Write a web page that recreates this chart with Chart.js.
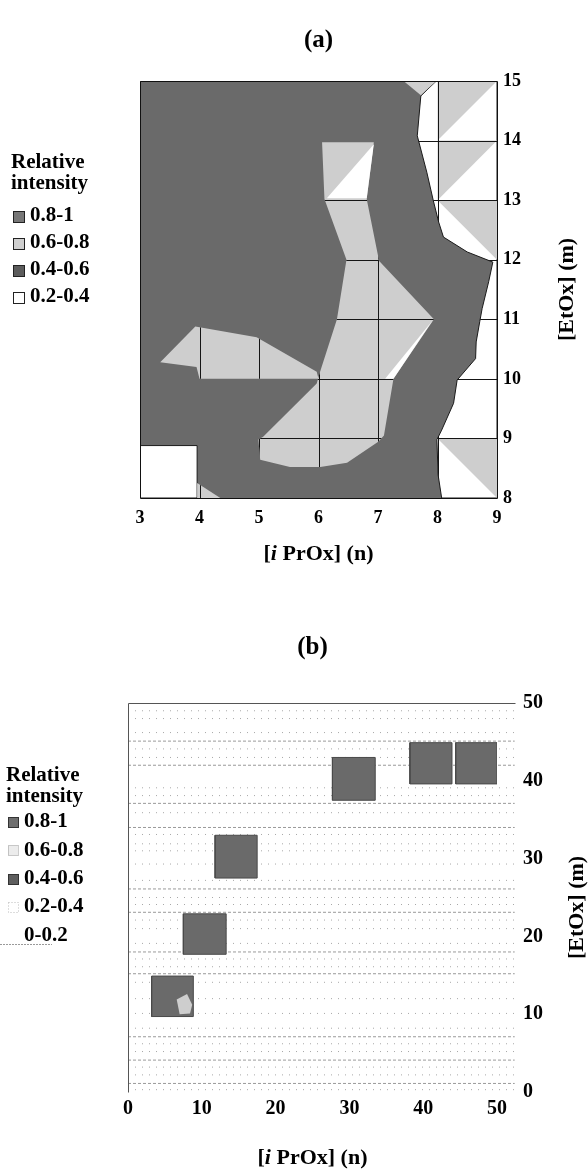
<!DOCTYPE html>
<html>
<head>
<meta charset="utf-8">
<title>Relative intensity maps</title>
<script src="https://cdn.jsdelivr.net/npm/chart.js@4.4.1/dist/chart.umd.min.js"></script>
<style>
  html, body { margin: 0; padding: 0; background: #fff; }
  canvas { display: block; }
</style>
</head>
<body>
<canvas id="chart-a" width="588" height="590"></canvas>
<canvas id="chart-b" width="588" height="584"></canvas>
<script>
// ---------- panel (a): n = 3..9, m = 8..15 ----------
var nRangeA = [3, 9];
var mRangeA = [8, 15];
var bandsA = ['0.8-1', '0.6-0.8', '0.4-0.6', '0.2-0.4'];

// contour regions, vertices as [n, m]
var fieldA = [[3, 8], [9, 8], [9, 15], [3, 15]];
var ridgeA = [[6.06, 13.97], [6.93, 13.97], [6.81, 13.02], [7.01, 12.02], [7.0, 12.0], [7.94, 11.0],
  [7.26, 10.0], [7.1, 9.05], [7.01, 8.95], [6.48, 8.59], [6.03, 8.52], [5.52, 8.52], [5.02, 8.64],
  [4.99, 8.98], [5.07, 9.03], [5.97, 9.92], [6.02, 10.1], [6.31, 11.0], [6.47, 12.0], [6.1, 13.02]];
var lobeA = [[3.34, 10.28], [3.93, 10.88], [4.96, 10.7], [5.97, 10.12], [6.0, 10.0], [4.0, 10.0], [3.95, 10.2]];
var notchA = [[6.93, 13.94], [6.81, 13.03], [6.14, 13.03]];
var sliverA = [[7.12, 10.0], [7.91, 10.97], [7.26, 10.0]];
var wedgeA = [[7.43, 15], [7.98, 15], [7.72, 14.76]];
var chipA = [[3.96, 8.25], [4.35, 8], [3.96, 8]];
var shoreA = [[7.98, 15], [7.72, 14.75], [7.66, 14.08], [7.82, 13.47], [7.93, 12.99], [8.02, 12.63],
  [8.1, 12.38], [8.5, 12.13], [8.93, 11.96], [8.86, 11.63], [8.75, 11.18], [8.71, 10.96], [8.65, 10.62],
  [8.64, 10.34], [8.33, 9.98], [8.27, 9.59], [8.07, 9.14], [7.99, 8.98], [8.01, 8.39], [8.07, 8.0],
  [9, 8], [9, 15]];
var cornerA = [[3, 8], [3.96, 8], [3.96, 8.88], [3, 8.88]];
var shadeA1 = [[8, 15], [9, 15], [8, 14]];
var shadeA2 = [[8, 14], [9, 14], [8, 13]];
var shadeA3 = [[8, 13], [9, 13], [9, 12]];
var shadeA4 = [[8, 9], [9, 9], [9, 8]];

// ---------- panel (b): n = 0..50, m = 0..50 ----------
var nRangeB = [0, 50];
var mRangeB = [0, 50];
var bandsB = ['0.8-1', '0.6-0.8', '0.4-0.6', '0.2-0.4', '0-0.2'];

// dark cells as [nFrom, nTo, mFrom, mTo]
var cellsB = [[3.2, 8.85, 9.7, 14.9], [7.5, 13.3, 17.7, 22.9], [11.8, 17.5, 27.5, 33.0],
  [27.7, 33.5, 37.5, 43.0], [38.2, 43.9, 39.6, 44.9], [44.4, 50.0, 39.6, 44.9]];
var spotB = [[6.6, 11.9], [8.0, 12.6], [8.7, 11.2], [8.4, 10.1], [7.0, 10.0]];
// m levels of the faint traces across the low-intensity floor (they run on past n = 50)
var traceEndB = 52.4;
var tracesB = [45.1, 42.0, 37.1, 34.0, 26.1, 23.1, 18.0, 15.2, 7.1, 4.1, 1.1];
var specksB = [49.0, 48.0, 46.2, 44.1, 43.0, 39.1, 38.1, 35.9, 33.1, 31.9, 31.0, 29.3, 27.2, 25.0,
  24.1, 22.1, 21.0, 19.1, 17.1, 16.1, 14.1, 12.0, 10.1, 8.2, 6.2, 5.2, 3.2, 2.2, 0.3];

var bandColors = {
  '0.8-1': '#6a6a6a',
  '0.6-0.8': '#cecece',
  '0.4-0.6': '#626262',
  '0.2-0.4': '#ffffff',
  '0-0.2': '#ffffff'
};

Chart.defaults.font.family = '"Liberation Serif", "Times New Roman", serif';
Chart.defaults.font.weight = 'bold';
Chart.defaults.color = '#000';

function toPoints(vertices) {
  var pts = vertices.map(function (v) { return {x: v[0], y: v[1]}; });
  pts.push({x: vertices[0][0], y: vertices[0][1]});
  return pts;
}

function region(vertices, band, order, edge) {
  return {
    label: band,
    data: toPoints(vertices),
    fill: 'shape',
    backgroundColor: bandColors[band],
    borderColor: '#1a1a1a',
    borderWidth: edge ? 1 : 0,
    order: order
  };
}

function rect(c) {
  return [[c[0], c[2]], [c[1], c[2]], [c[1], c[3]], [c[0], c[3]]];
}

function levelLines(levels, from, to) {
  var pts = [];
  levels.forEach(function (m) {
    pts.push({x: from, y: m}, {x: to, y: m}, {x: to, y: null});
  });
  return pts;
}

// grid lines only show through the lighter bands
var clippedGrid = {
  id: 'clippedGrid',
  afterDatasetsDraw: function (chart, args, opts) {
    var ctx = chart.ctx, xs = chart.scales.x, ys = chart.scales.y, area = chart.chartArea;
    chart.data.datasets.forEach(function (ds, i) {
      if (opts.bands.indexOf(ds.label) < 0) return;
      var pts = chart.getDatasetMeta(i).data;
      ctx.save();
      ctx.beginPath();
      pts.forEach(function (p, k) { if (k) ctx.lineTo(p.x, p.y); else ctx.moveTo(p.x, p.y); });
      ctx.closePath();
      ctx.clip();
      ctx.beginPath();
      xs.ticks.forEach(function (t) {
        var px = Math.round(xs.getPixelForValue(t.value)) + 0.5;
        ctx.moveTo(px, area.top);
        ctx.lineTo(px, area.bottom);
      });
      ys.ticks.forEach(function (t) {
        var py = Math.round(ys.getPixelForValue(t.value)) + 0.5;
        ctx.moveTo(area.left, py);
        ctx.lineTo(area.right, py);
      });
      ctx.strokeStyle = opts.color;
      ctx.lineWidth = 1;
      ctx.stroke();
      ctx.restore();
    });
  }
};

var plotFrame = {
  id: 'plotFrame',
  afterDatasetsDraw: function (chart, args, opts) {
    var a = chart.chartArea, ctx = chart.ctx;
    var l = Math.round(a.left) + 0.5, r = Math.round(a.right) + 0.5;
    var t = Math.round(a.top) + 0.5, b = Math.round(a.bottom) + 0.5;
    ctx.save();
    ctx.strokeStyle = opts.color;
    ctx.lineWidth = 1;
    ctx.beginPath();
    opts.sides.forEach(function (s) {
      if (s === 'top') { ctx.moveTo(l, t); ctx.lineTo(r + opts.overhang, t); }
      if (s === 'left') { ctx.moveTo(l, t); ctx.lineTo(l, b); }
      if (s === 'right') { ctx.moveTo(r, t); ctx.lineTo(r, b); }
      if (s === 'bottom') { ctx.moveTo(l, b); ctx.lineTo(r, b); }
    });
    ctx.stroke();
    ctx.restore();
  }
};

var bandKey = {
  id: 'bandKey',
  afterDraw: function (chart, args, opts) {
    var ctx = chart.ctx;
    ctx.save();
    ctx.font = 'bold ' + opts.size + 'px "Liberation Serif", serif';
    ctx.textBaseline = 'middle';
    ctx.textAlign = 'left';
    ctx.fillStyle = '#000';
    opts.title.forEach(function (line, i) {
      ctx.fillText(line, opts.left, opts.top + i * opts.titleGap);
    });
    opts.labels.forEach(function (label, i) {
      var y = opts.firstRow + i * opts.rowGap;
      var sw = opts.swatches[label];
      var bx = opts.left + 2, by = Math.round(y - opts.box / 2) + 0.5;
      if (sw.fill) {
        ctx.fillStyle = sw.fill;
        ctx.fillRect(bx, by, opts.box, opts.box);
      }
      if (sw.stroke) {
        ctx.setLineDash(sw.dash || []);
        ctx.strokeStyle = sw.stroke;
        ctx.lineWidth = 1;
        ctx.strokeRect(bx + 0.5, by, opts.box, opts.box);
        ctx.setLineDash([]);
      }
      if (sw.rule) {
        var ry = Math.round(y + opts.size / 2 - 2) + 0.5;
        ctx.strokeStyle = sw.rule;
        ctx.setLineDash([2, 1]);
        ctx.beginPath();
        ctx.moveTo(0, ry);
        ctx.lineTo(opts.left + opts.box + 36, ry);
        ctx.stroke();
        ctx.setLineDash([]);
      }
      ctx.fillStyle = '#000';
      ctx.fillText(label, bx + opts.box + opts.textGap, y);
    });
    ctx.restore();
  }
};

// axis titles: "[iPrOx] (n)" with an italic i, and "[EtOx] (m)" reading upwards on the right
var axisTitles = {
  id: 'axisTitles',
  afterDraw: function (chart, args, opts) {
    var ctx = chart.ctx, a = chart.chartArea;
    var fam = '"Liberation Serif", serif';
    var parts = [['[', 'bold '], ['i', 'italic bold '], [' PrOx] (n)', 'bold ']];
    ctx.save();
    ctx.fillStyle = '#000';
    ctx.textBaseline = 'middle';
    ctx.textAlign = 'left';
    var total = 0;
    parts.forEach(function (p) {
      ctx.font = p[1] + opts.size + 'px ' + fam;
      total += ctx.measureText(p[0]).width;
    });
    var x = (a.left + a.right) / 2 - total / 2, y = a.bottom + opts.xOffset;
    parts.forEach(function (p) {
      ctx.font = p[1] + opts.size + 'px ' + fam;
      ctx.fillText(p[0], x, y);
      x += ctx.measureText(p[0]).width;
    });
    ctx.translate(a.right + opts.yOffset, (a.top + a.bottom) / 2 + opts.yShift);
    ctx.rotate(-Math.PI / 2);
    ctx.textAlign = 'center';
    ctx.font = 'bold ' + opts.size + 'px ' + fam;
    ctx.fillText('[EtOx] (m)', 0, 0);
    ctx.restore();
  }
};

function scaleOptions(range, step, size, pad, position, fit) {
  return {
    type: 'linear',
    position: position,
    min: range[0],
    max: range[1],
    ticks: { stepSize: step, padding: pad, font: { size: size } },
    grid: { display: false, drawTicks: false },
    border: { display: false },
    afterFit: fit
  };
}

new Chart(document.getElementById('chart-a'), {
  type: 'line',
  data: {
    datasets: [
      region(fieldA, '0.8-1', 6),
      region(shoreA, '0.2-0.4', 5, true),
      region(cornerA, '0.2-0.4', 5, true),
      region(ridgeA, '0.6-0.8', 4),
      region(lobeA, '0.6-0.8', 4),
      region(wedgeA, '0.6-0.8', 4),
      region(chipA, '0.6-0.8', 4),
      region(shadeA1, '0.6-0.8', 3),
      region(shadeA2, '0.6-0.8', 3),
      region(shadeA3, '0.6-0.8', 3),
      region(shadeA4, '0.6-0.8', 3),
      region(notchA, '0.2-0.4', 2),
      region(sliverA, '0.2-0.4', 2)
    ]
  },
  options: {
    responsive: false,
    animation: false,
    events: [],
    layout: { padding: { left: 140, right: 51, bottom: 52 } },
    elements: { point: { radius: 0 }, line: { tension: 0 } },
    scales: {
      x: scaleOptions(nRangeA, 1, 18, 10, 'bottom', function (s) { s.height = 40; }),
      y: scaleOptions(mRangeA, 1, 18, 6, 'right', function (s) { s.width = 40; })
    },
    plugins: {
      legend: { display: false },
      tooltip: { enabled: false },
      title: { display: true, fullSize: false, text: '(a)', font: { size: 25 }, padding: { top: 26, bottom: 25 } },
      clippedGrid: { bands: ['0.6-0.8', '0.2-0.4'], color: '#151515' },
      plotFrame: { sides: ['top', 'left', 'right', 'bottom'], color: '#111', overhang: 0 },
      bandKey: {
        title: ['Relative', 'intensity'], labels: bandsA, size: 21,
        left: 11, top: 163, titleGap: 21, firstRow: 216, rowGap: 27, box: 11, textGap: 6,
        swatches: {
          '0.8-1': { fill: '#777', stroke: '#222' },
          '0.6-0.8': { fill: '#cfcfcf', stroke: '#222' },
          '0.4-0.6': { fill: '#5c5c5c', stroke: '#222' },
          '0.2-0.4': { fill: '#fff', stroke: '#222' }
        }
      },
      axisTitles: { size: 22, xOffset: 56, yOffset: 70, yShift: 0 }
    }
  },
  plugins: [clippedGrid, plotFrame, bandKey, axisTitles]
});

var cellSets = cellsB.map(function (c) {
  var ds = region(rect(c), '0.8-1', 3);
  ds.borderColor = '#4a4a4a';
  ds.borderWidth = 1;
  return ds;
});

// the traces run a little past the last tick, so let them out of the plot clip on the right
var traceClip = { left: 0, top: 0, right: 20, bottom: 0 };

new Chart(document.getElementById('chart-b'), {
  type: 'line',
  data: {
    datasets: [
      {
        label: '0.2-0.4',
        data: levelLines(specksB, nRangeB[0], traceEndB),
        borderColor: '#a8a8a8',
        borderWidth: 1,
        borderDash: [1, 6],
        fill: false,
        clip: traceClip,
        order: 5
      },
      {
        label: '0.2-0.4',
        data: levelLines(tracesB, nRangeB[0], traceEndB),
        borderColor: '#9a9a9a',
        borderWidth: 1,
        borderDash: [3, 2],
        fill: false,
        clip: traceClip,
        order: 4
      }
    ].concat(cellSets, [region(spotB, '0.6-0.8', 2)])
  },
  options: {
    responsive: false,
    animation: false,
    events: [],
    layout: { padding: { left: 128, right: 33, bottom: 42 } },
    elements: { point: { radius: 0 }, line: { tension: 0 } },
    scales: {
      x: scaleOptions(nRangeB, 10, 20, 5, 'bottom', function (s) { s.height = 40; }),
      y: scaleOptions(mRangeB, 10, 20, 26, 'right', function (s) { s.width = 58; })
    },
    plugins: {
      legend: { display: false },
      tooltip: { enabled: false },
      title: { display: true, fullSize: false, text: '(b)', font: { size: 25 }, padding: { top: 43, bottom: 40 } },
      plotFrame: { sides: ['top', 'left'], color: '#555', overhang: 18 },
      bandKey: {
        title: ['Relative', 'intensity'], labels: bandsB, size: 21,
        left: 6, top: 186, titleGap: 21, firstRow: 232, rowGap: 28.3, box: 10, textGap: 6,
        swatches: {
          '0.8-1': { fill: '#6e6e6e', stroke: '#333' },
          '0.6-0.8': { fill: '#ececec', stroke: '#999', dash: [1, 1] },
          '0.4-0.6': { fill: '#5e5e5e', stroke: '#333' },
          '0.2-0.4': { fill: '#fff', stroke: '#bbb', dash: [1, 2] },
          '0-0.2': { rule: '#9a9a9a' }
        }
      },
      axisTitles: { size: 22, xOffset: 66, yOffset: 80, yShift: 10 }
    }
  },
  plugins: [plotFrame, bandKey, axisTitles]
});
</script>
</body>
</html>
